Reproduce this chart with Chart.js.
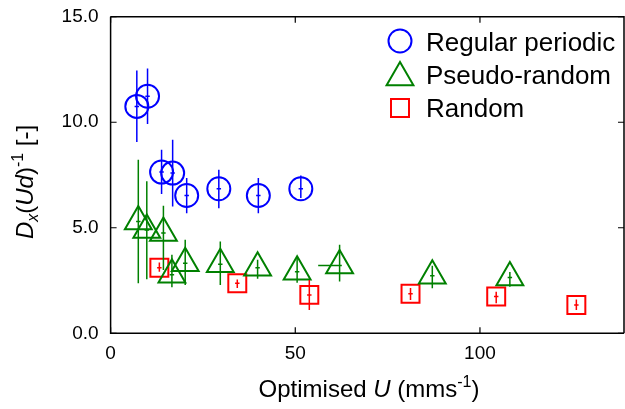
<!DOCTYPE html>
<html>
<head>
<meta charset="utf-8">
<script src="https://cdn.jsdelivr.net/npm/chart.js@4/dist/chart.umd.min.js"></script>
<style>
  html, body { margin: 0; padding: 0; background: #fff; }
  canvas { display: block; }
</style>
</head>
<body>
<canvas id="dxChart" width="625" height="409"></canvas>
<script>
// Data
const regularU  = [7.1, 10.0, 13.8, 16.8, 20.6, 29.3, 40.0, 51.5];
const regularD  = [10.75, 11.23, 7.64, 7.59, 6.53, 6.85, 6.53, 6.85];
const regularLo = [9.06, 9.92, 6.60, 6.01, 5.69, 5.93, 5.69, 6.41];
const regularHi = [12.45, 12.54, 8.70, 9.17, 7.36, 7.75, 7.36, 7.48];
const regularULo = [0.6, 0.6, 0.6, 0.6, 0.6, 0.6, 0.6, 0.6];
const regularUHi = [0.6, 0.6, 0.6, 0.6, 0.6, 0.6, 0.6, 0.6];

const pseudoU  = [7.5, 9.8, 14.3, 16.6, 20.2, 29.7, 39.8, 50.5, 62.0, 87.1, 108.1];
const pseudoD  = [5.30, 4.90, 4.75, 2.77, 3.32, 3.27, 3.11, 2.92, 3.21, 2.73, 2.64];
const pseudoLo = [2.37, 2.56, 3.00, 2.18, 2.29, 2.29, 2.58, 2.39, 2.45, 2.14, 2.20];
const pseudoHi = [8.22, 7.20, 6.04, 3.72, 4.43, 4.35, 3.48, 3.57, 4.19, 3.20, 2.90];
const pseudoULo = [0.6, 0.6, 0.6, 0.6, 0.6, 0.6, 0.6, 0.6, 5.8, 0.6, 0.6];
const pseudoUHi = [0.6, 0.6, 0.6, 0.6, 0.6, 0.6, 0.6, 0.6, 0.6, 0.6, 0.6];

const randomU  = [13.2, 34.3, 53.8, 81.2, 104.4, 126.1];
const randomD  = [3.11, 2.37, 1.82, 1.87, 1.74, 1.34];
const randomLo = [2.92, 2.15, 1.10, 1.58, 1.42, 1.10];
const randomHi = [3.35, 2.55, 2.53, 2.15, 1.97, 1.60];
const randomULo = [0.6, 0.6, 0.6, 0.6, 0.6, 0.6];
const randomUHi = [0.6, 0.6, 0.6, 0.6, 0.6, 0.6];

const seriesLabels = ['Regular periodic', 'Pseudo-random', 'Random'];
const xTicks = [0, 50, 100];
const yTicks = [0, 5, 10, 15];

const FONT = "'Liberation Sans', Arial, sans-serif";

function points(xs, ys, lo, hi, xlo, xhi) {
  return xs.map((x, i) => ({ x: x, y: ys[i], yMin: lo[i], yMax: hi[i], xMin: x - xlo[i], xMax: x + xhi[i] }));
}

// error bars, inward ticks, frame, legend and axis titles
const extras = {
  id: 'extras',
  afterDatasetsDraw(chart) {
    const ctx = chart.ctx;
    const xs = chart.scales.x, ys = chart.scales.y;
    ctx.save();
    chart.data.datasets.forEach(ds => {
      ctx.strokeStyle = ds.borderColor;
      ctx.lineWidth = 1.5;
      ds.data.forEach(p => {
        const px = xs.getPixelForValue(p.x), py = ys.getPixelForValue(p.y);
        ctx.beginPath();
        ctx.moveTo(px, ys.getPixelForValue(p.yMin));
        ctx.lineTo(px, ys.getPixelForValue(p.yMax));
        ctx.moveTo(xs.getPixelForValue(p.xMin), py);
        ctx.lineTo(xs.getPixelForValue(p.xMax), py);
        ctx.stroke();
      });
    });
    ctx.restore();
  },
  afterDraw(chart) {
    const ctx = chart.ctx;
    const a = chart.chartArea;
    const xs = chart.scales.x, ys = chart.scales.y;
    ctx.save();
    // frame
    ctx.strokeStyle = '#000';
    ctx.lineWidth = 1.5;
    ctx.beginPath();
    ctx.moveTo(a.left, a.top); ctx.lineTo(a.right, a.top); ctx.lineTo(a.right, a.bottom);
    ctx.moveTo(a.left, a.top); ctx.lineTo(a.left, a.bottom); ctx.lineTo(a.right, a.bottom);
    ctx.stroke();
    // inward ticks
    ctx.lineWidth = 1.2;
    ctx.beginPath();
    xTicks.forEach(v => {
      const px = xs.getPixelForValue(v);
      ctx.moveTo(px, a.bottom); ctx.lineTo(px, a.bottom - 6);
      ctx.moveTo(px, a.top); ctx.lineTo(px, a.top + 6);
    });
    yTicks.forEach(v => {
      const py = ys.getPixelForValue(v);
      ctx.moveTo(a.left, py); ctx.lineTo(a.left + 6, py);
      ctx.moveTo(a.right, py); ctx.lineTo(a.right - 6, py);
    });
    ctx.stroke();

    // legend
    const legendY = [41, 77.5, 108];
    const textY = [51, 84, 117];
    chart.data.datasets.forEach((ds, i) => {
      ctx.strokeStyle = ds.borderColor;
      ctx.lineWidth = 2;
      const cx = 400, cy = legendY[i];
      ctx.beginPath();
      if (ds.pointStyle === 'circle') {
        ctx.arc(cx, cy, 11.5, 0, Math.PI * 2);
      } else if (ds.pointStyle === 'triangle') {
        const r = 15.5;
        ctx.moveTo(cx, cy - r);
        ctx.lineTo(cx + r * 0.866, cy + r / 2);
        ctx.lineTo(cx - r * 0.866, cy + r / 2);
        ctx.closePath();
      } else {
        ctx.rect(cx - 9, cy - 9, 18, 18);
      }
      ctx.stroke();
      ctx.fillStyle = '#000';
      ctx.font = '26px ' + FONT;
      ctx.textAlign = 'left';
      ctx.textBaseline = 'alphabetic';
      ctx.fillText(ds.label, 426, textY[i]);
    });

    // rich text helper
    function rich(parts, measureOnly) {
      let w = 0;
      parts.forEach(p => {
        ctx.font = (p.italic ? 'italic ' : '') + p.size + 'px ' + FONT;
        if (!measureOnly) ctx.fillText(p.t, w, p.dy || 0);
        w += ctx.measureText(p.t).width;
      });
      return w;
    }
    ctx.fillStyle = '#000';
    ctx.textAlign = 'left';
    ctx.textBaseline = 'alphabetic';

    // x title
    const xParts = [
      { t: 'Optimised ', size: 24 },
      { t: 'U', size: 24, italic: true },
      { t: ' (mms', size: 24 },
      { t: '-1', size: 16, dy: -10 },
      { t: ')', size: 24 }
    ];
    const xw = rich(xParts, true);
    ctx.save();
    ctx.translate(369 - xw / 2, 397);
    rich(xParts, false);
    ctx.restore();

    // y title
    const yParts = [
      { t: 'D', size: 24, italic: true },
      { t: 'x', size: 16, italic: true, dy: 5 },
      { t: '(', size: 24 },
      { t: 'Ud', size: 24, italic: true },
      { t: ')', size: 24 },
      { t: '-1', size: 16, dy: -10 },
      { t: ' [-]', size: 24 }
    ];
    const yw = rich(yParts, true);
    ctx.save();
    ctx.translate(33, 182 + yw / 2);
    ctx.rotate(-Math.PI / 2);
    rich(yParts, false);
    ctx.restore();

    ctx.restore();
  }
};

function noPad(s) {
  s.paddingTop = 0; s.paddingBottom = 0; s.paddingLeft = 0; s.paddingRight = 0;
}

const ctx = document.getElementById('dxChart').getContext('2d');
const dxChart = new Chart(ctx, {
  type: 'scatter',
  data: {
    datasets: [
      {
        label: seriesLabels[0],
        data: points(regularU, regularD, regularLo, regularHi, regularULo, regularUHi),
        pointStyle: 'circle',
        pointRadius: 11.5,
        borderColor: '#0000ff',
        backgroundColor: 'rgba(0,0,0,0)',
        borderWidth: 2
      },
      {
        label: seriesLabels[1],
        data: points(pseudoU, pseudoD, pseudoLo, pseudoHi, pseudoULo, pseudoUHi),
        pointStyle: 'triangle',
        pointRadius: 15.5,
        borderColor: '#008000',
        backgroundColor: 'rgba(0,0,0,0)',
        borderWidth: 2
      },
      {
        label: seriesLabels[2],
        data: points(randomU, randomD, randomLo, randomHi, randomULo, randomUHi),
        pointStyle: 'rect',
        pointRadius: 12.7,
        borderColor: '#ff0000',
        backgroundColor: 'rgba(0,0,0,0)',
        borderWidth: 2
      }
    ]
  },
  options: {
    responsive: false,
    animation: false,
    devicePixelRatio: 1,
    clip: false,
    layout: { autoPadding: false, padding: { top: 16.7, right: 1, left: 0, bottom: 0 } },
    plugins: {
      legend: { display: false },
      tooltip: { enabled: false }
    },
    scales: {
      x: {
        type: 'linear',
        min: 0,
        max: 139,
        afterBuildTicks: s => { s.ticks = xTicks.map(v => ({ value: v })); },
        ticks: {
          color: '#000',
          font: { family: FONT, size: 19 },
          padding: 9,
          maxRotation: 0,
          callback: v => String(v)
        },
        grid: { display: false, drawTicks: false, tickLength: 0 },
        border: { display: false },
        afterFit: s => { s.height = 75.7; noPad(s); }
      },
      y: {
        type: 'linear',
        min: 0,
        max: 15,
        afterBuildTicks: s => { s.ticks = yTicks.map(v => ({ value: v })); },
        ticks: {
          color: '#000',
          font: { family: FONT, size: 19 },
          padding: 12,
          callback: v => v.toFixed(1)
        },
        grid: { display: false, drawTicks: false, tickLength: 0 },
        border: { display: false },
        afterFit: s => { s.width = 110.6; noPad(s); }
      }
    }
  },
  plugins: [extras]
});
</script>
</body>
</html>
